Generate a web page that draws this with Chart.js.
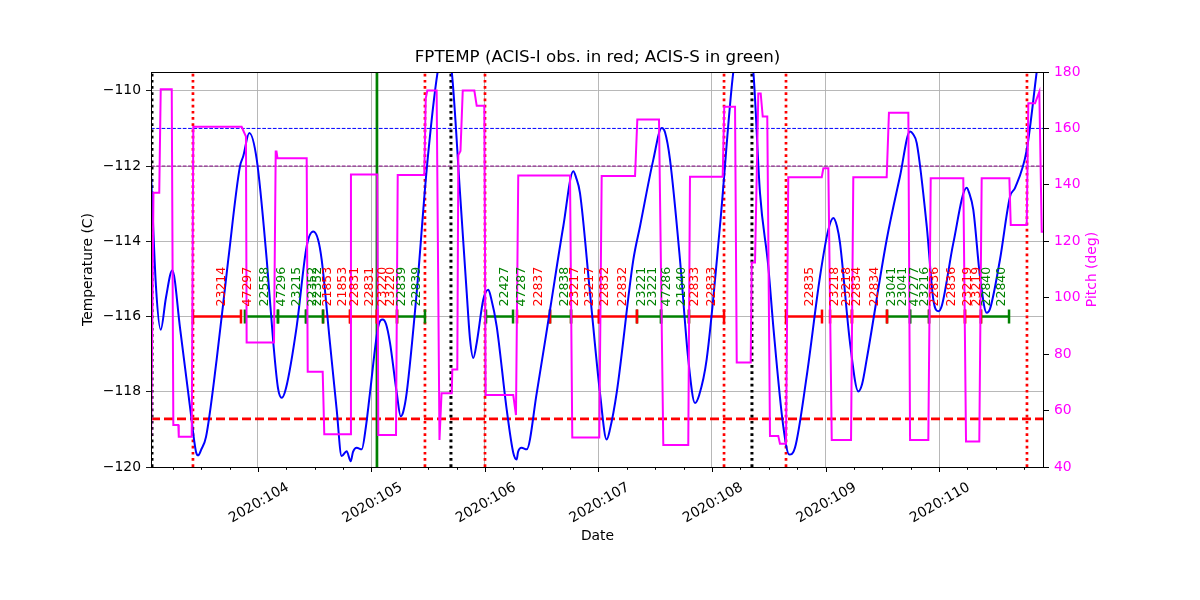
<!DOCTYPE html>
<html><head><meta charset="utf-8">
<script src="https://cdn.jsdelivr.net/npm/chart.js@4/dist/chart.umd.min.js"></script>
<style>html,body{margin:0;padding:0;background:#fff}#wrap{width:1200px;height:600px}</style>
</head><body><div id="wrap"><canvas id="c" width="1200" height="600"></canvas></div>
<script>
// ---------- DATA (x values are day-of-year 2020) ----------
const tempTime=[103.059,103.101,103.143,103.189,103.245,103.313,103.401,103.454,103.474,103.498,103.542,103.636,103.738,103.841,103.870,103.923,103.989,104.077,104.135,104.176,104.209,104.247,104.341,104.429,104.487,104.529,104.561,104.634,104.693,104.737,104.781,104.817,104.837,104.870,104.914,104.952,104.987,105.060,105.099,105.128,105.163,105.222,105.257,105.278,105.310,105.398,105.486,105.583,105.645,105.707,105.780,105.839,105.868,105.897,105.927,105.985,106.029,106.053,106.103,106.191,106.249,106.279,106.291,106.323,106.367,106.456,106.573,106.690,106.778,106.802,106.837,106.925,107.013,107.072,107.101,107.160,107.307,107.366,107.483,107.557,107.586,107.630,107.718,107.791,107.850,107.886,107.953,108.070,108.188,108.273,108.364,108.423,108.496,108.540,108.628,108.681,108.731,108.834,108.952,109.025,109.069,109.101,109.128,109.216,109.289,109.322,109.363,109.539,109.656,109.745,109.771,109.804,109.892,109.950,109.994,110.026,110.126,110.244,110.264,110.302,110.361,110.420,110.449,110.537,110.626,110.670,110.773,110.861,110.925];
const tempVal=[-112.3,-115.2,-116.35,-115.5,-114.77,-116.3,-118.4,-119.6,-119.69,-119.55,-119.2,-117.14,-114.49,-112.01,-111.74,-111.12,-111.83,-114.49,-116.70,-117.9,-118.16,-117.9,-116.26,-114.13,-113.74,-113.95,-114.49,-116.70,-118.47,-119.71,-119.58,-119.85,-119.6,-119.49,-119.53,-118.9,-118.02,-116.26,-116.08,-116.2,-116.70,-118.02,-118.65,-118.55,-118.03,-115.37,-112.10,-109.49,-108.7,-109.49,-112.72,-115.37,-116.6,-117.10,-116.70,-115.55,-115.29,-115.5,-116.26,-118.47,-119.62,-119.80,-119.6,-119.49,-119.53,-118.03,-115.82,-113.60,-112.14,-112.3,-112.72,-115.37,-118.03,-119.27,-119.0,-118.03,-114.49,-113.60,-111.83,-110.99,-111.1,-111.83,-114.49,-117.14,-118.30,-118.1,-117.14,-113.60,-109.49,-108.2,-109.49,-112.72,-114.67,-116.26,-118.92,-119.67,-119.49,-117.59,-114.93,-113.69,-113.38,-113.6,-114.05,-116.70,-117.99,-117.8,-117.14,-113.96,-112.28,-111.08,-111.15,-111.39,-113.60,-115.55,-115.86,-115.7,-114.05,-112.58,-112.7,-113.16,-114.93,-115.90,-115.8,-114.49,-112.81,-112.58,-111.57,-109.49,-107.96];

const pitchTime=[103.059,103.079,103.130,103.143,103.240,103.254,103.298,103.302,103.416,103.430,103.856,103.894,103.900,104.141,104.156,104.163,104.172,104.429,104.438,104.570,104.584,104.811,104.819,105.051,105.060,105.216,105.231,105.465,105.478,105.492,105.574,105.599,105.617,105.707,105.712,105.756,105.765,105.784,105.804,105.906,105.927,105.994,106.006,106.249,106.273,106.293,106.749,106.769,107.007,107.028,107.322,107.342,107.533,107.571,107.791,107.806,108.094,108.108,108.203,108.218,108.341,108.350,108.379,108.408,108.429,108.447,108.487,108.511,108.584,108.599,108.652,108.672,108.967,108.981,109.025,109.055,109.225,109.245,109.539,109.559,109.730,109.745,109.906,109.927,110.214,110.238,110.355,110.376,110.620,110.632,110.773,110.787,110.846,110.884,110.905,110.925];
const pitchVal=[50.7,137.2,137.2,173.9,173.9,54.9,54.9,50.7,50.7,160.6,160.6,157.1,84.1,84.1,151.8,151.8,149.4,149.4,73.8,73.8,51.6,51.6,143.7,143.7,51.3,51.3,143.5,143.5,170.7,173.4,173.4,49.6,66.1,66.1,74.6,74.6,150.6,152,173.4,173.4,168,168,65.5,65.5,58.4,143.3,143.3,50.5,50.5,143.1,143.1,163.2,163.2,47.8,47.8,142.9,142.9,167.7,167.7,77,77,112.5,112.5,172.4,172.4,164.2,164.2,51,51,48.2,48.2,142.7,142.7,145.9,145.9,49.6,49.6,142.7,142.7,165.6,165.6,49.6,49.6,142.3,142.3,49,49,142.3,142.3,125.8,125.8,168.9,168.9,173,123.4,123.4];

// observation bars (instrument I = ACIS-I red, S = ACIS-S green)
const obsStart=[103.427,103.885,104.176,104.423,104.573,104.811,105.048,105.225,106.009,106.282,106.573,106.758,107.004,107.339,107.551,107.797,108.652,109.040,109.233,109.542,109.745,109.912,110.229,110.370];
const obsStop =[103.850,104.176,104.423,104.573,104.811,105.048,105.225,105.471,106.247,106.573,106.758,107.004,107.339,107.551,107.797,108.106,108.969,109.233,109.542,109.745,109.912,110.229,110.370,110.617];
const obsInstr=['I','S','S','S','I','I','I','S','S','I','S','I','I','S','S','I','I','I','I','S','S','I','I','S'];
const obsLevel=-116;

// obsid labels
const labelTime=[103.683,103.912,104.062,104.211,104.344,104.485,104.529,104.617,104.749,104.855,104.987,105.101,105.172,105.269,105.401,106.176,106.326,106.476,106.705,106.793,106.925,107.057,107.216,107.383,107.480,107.604,107.736,107.850,108.000,108.864,109.084,109.190,109.278,109.436,109.586,109.683,109.789,109.877,109.965,110.115,110.256,110.335,110.423,110.555];
const labelText=['23214','47297','22558','47296','23215','22352','22352','21853','21853','22831','22831','23220','23220','22839','22839','22427','47287','22837','22838','23217','23217','22832','22832','23221','23221','47286','21640','22833','22833','22835','23218','23218','22834','22834','23041','23041','47277','23216','22836','22836','23219','23219','22840','22840'];
const labelInstr=['I','I','S','S','S','S','S','I','I','I','I','I','I','S','S','S','S','I','S','I','I','I','I','S','S','S','S','I','I','I','I','I','I','I','S','S','S','S','I','I','I','I','S','S'];

// vertical markers
const blackDotTimes=[103.066,105.700,108.352];
const redDotTimes=[103.427,105.471,106.000,108.106,108.652,110.775];
const greenLineTimes=[105.048];

// horizontal limits (temperature)
const limBlue=-111.0, limPurple=-112.0, limRed=-118.72;

// axes
const xMin=103.0573, xMax=110.9251;
const tMin=-120, tMax=-109.5, pMin=40, pMax=180;
const dayTicks=[104,105,106,107,108,109,110];
const tickYear='2020';

// ---------- CHART ----------
const FONT='DejaVu Sans';
const instrColor={I:'#ff0000',S:'#008000'};
const datasets=[];
datasets.push({label:'pitch',yAxisID:'y2',data:pitchTime.map((t,i)=>({x:t,y:pitchVal[i]})),borderColor:'#ff00ff',borderWidth:2,pointRadius:0,tension:0,order:0});
datasets.push({label:'temp',yAxisID:'y',data:tempTime.map((t,i)=>({x:t,y:tempVal[i]})),borderColor:'#0000ff',borderWidth:2,pointRadius:0,cubicInterpolationMode:'monotone',order:1});
obsStart.forEach((s,i)=>{
  const c=instrColor[obsInstr[i]];
  datasets.push({label:'obs'+i,yAxisID:'y',data:[{x:s,y:obsLevel},{x:obsStop[i],y:obsLevel}],borderColor:c,borderWidth:2.5,
    pointStyle:'line',pointRotation:90,pointRadius:7,pointBorderWidth:2.5,pointBorderColor:c,pointBackgroundColor:c,order:2});
});
blackDotTimes.forEach(t=>datasets.push({yAxisID:'y',data:[{x:t,y:tMin},{x:t,y:tMax}],borderColor:'#000',borderWidth:3,borderDash:[2.7,3.5],pointRadius:0,order:3}));
redDotTimes.forEach(t=>datasets.push({yAxisID:'y',data:[{x:t,y:tMin},{x:t,y:tMax}],borderColor:'#ff0000',borderWidth:2.7,borderDash:[2.7,3.5],pointRadius:0,order:3}));
greenLineTimes.forEach(t=>datasets.push({yAxisID:'y',data:[{x:t,y:tMin},{x:t,y:tMax}],borderColor:'#008000',borderWidth:2.7,pointRadius:0,order:3}));
datasets.push({yAxisID:'y',data:[{x:xMin,y:limBlue},{x:xMax,y:limBlue}],borderColor:'#0000ff',borderWidth:1,borderDash:[3.7,1.6],pointRadius:0,order:4});
datasets.push({yAxisID:'y',data:[{x:xMin,y:limPurple},{x:xMax,y:limPurple}],borderColor:'#800080',borderWidth:1,borderDash:[3.7,1.6],pointRadius:0,order:4});
datasets.push({yAxisID:'y',data:[{x:xMin,y:limRed},{x:xMax,y:limRed}],borderColor:'#ff0000',borderWidth:2.7,borderDash:[9,4],pointRadius:0,order:4});

const minus=v=>(v<0?'\u2212':'')+Math.abs(v);

const textPlugin={
  id:'texts',
  afterDraw(chart){
    const ctx=chart.ctx, a=chart.chartArea, xs=chart.scales.x, ys=chart.scales.y;
    ctx.save();
    // obs labels
    ctx.font='12.5px "'+FONT+'"';
    ctx.textAlign='left'; ctx.textBaseline='middle';
    const ly=ys.getPixelForValue(obsLevel)-10;
    labelTime.forEach((t,i)=>{
      const x=xs.getPixelForValue(t);
      ctx.save(); ctx.translate(x,ly); ctx.rotate(-Math.PI/2);
      ctx.fillStyle=instrColor[labelInstr[i]]; ctx.fillText(labelText[i],0,0); ctx.restore();
    });
    // frame
    ctx.strokeStyle='#000'; ctx.lineWidth=1;
    ctx.strokeRect(Math.round(a.left)+0.5,Math.round(a.top)+0.5,Math.round(a.right-a.left)-1,Math.round(a.bottom-a.top));
    // x ticks (major + minor)
    ctx.beginPath();
    for(let k=Math.ceil(xMin*4);k<=Math.floor(xMax*4);k++){
      const v=k/4, px=Math.round(xs.getPixelForValue(v))+0.5;
      const len=(k%4===0)?5:2.8;
      ctx.moveTo(px,a.bottom); ctx.lineTo(px,a.bottom+len);
    }
    ctx.stroke();
    // x tick labels, rotated 30deg, centered
    ctx.fillStyle='#000'; ctx.font='13.9px "'+FONT+'"'; ctx.textAlign='center'; ctx.textBaseline='middle';
    dayTicks.forEach(d=>{
      const px=xs.getPixelForValue(d);
      ctx.save(); ctx.translate(px+1,a.bottom+36); ctx.rotate(-Math.PI/6);
      ctx.fillText(tickYear+':'+d,0,0); ctx.restore();
    });
    // axis titles
    ctx.fillText('Date',(a.left+a.right)/2,a.bottom+69);
    const cy=(a.top+a.bottom)/2;
    ctx.save(); ctx.translate(88,cy); ctx.rotate(-Math.PI/2); ctx.fillText('Temperature (C)',0,0); ctx.restore();
    ctx.save(); ctx.translate(a.right+48,cy); ctx.rotate(-Math.PI/2); ctx.fillStyle='#ff00ff'; ctx.fillText('Pitch (deg)',0,0); ctx.restore();
    // title
    ctx.font='16.7px "'+FONT+'"';
    ctx.fillText('FPTEMP (ACIS-I obs. in red; ACIS-S in green)',(a.left+a.right)/2,a.top-14);
    ctx.restore();
  }
};

new Chart(document.getElementById('c'),{
  type:'line',
  data:{datasets},
  options:{
    responsive:false,animation:false,devicePixelRatio:1,events:[],
    layout:{padding:{top:72,left:0,right:0,bottom:0}},
    plugins:{legend:{display:false},tooltip:{enabled:false},title:{display:false}},
    elements:{line:{borderCapStyle:'butt'}},
    scales:{
      x:{type:'linear',position:'bottom',min:xMin,max:xMax,
        afterBuildTicks(s){const t=[];for(let k=Math.ceil(s.min*4);k<=Math.floor(s.max*4);k++)t.push({value:k/4});s.ticks=t;},
        ticks:{display:false,autoSkip:false},
        grid:{color:c=>(c.tick&&Number.isInteger(c.tick.value))?'#b0b0b0':'rgba(0,0,0,0)',lineWidth:0.9,drawTicks:false},
        border:{display:false},
        afterFit(s){s.height=133;}
      },
      y:{type:'linear',position:'left',min:tMin,max:tMax,
        ticks:{stepSize:2,includeBounds:false,color:'#000',padding:5,font:{family:FONT,size:13.9},callback:v=>minus(v)},
        grid:{color:'#b0b0b0',lineWidth:0.9,tickColor:'#000',tickLength:5,drawTicks:true},
        border:{display:false},
        afterFit(s){s.width=151;}
      },
      y2:{type:'linear',position:'right',min:pMin,max:pMax,
        ticks:{stepSize:20,includeBounds:false,color:'#ff00ff',padding:5,font:{family:FONT,size:13.9}},
        grid:{drawOnChartArea:false,tickColor:'#000',tickLength:5,drawTicks:true},
        border:{display:false},
        afterFit(s){s.width=156;}
      }
    }
  },
  plugins:[textPlugin]
});
</script>
</body></html>
